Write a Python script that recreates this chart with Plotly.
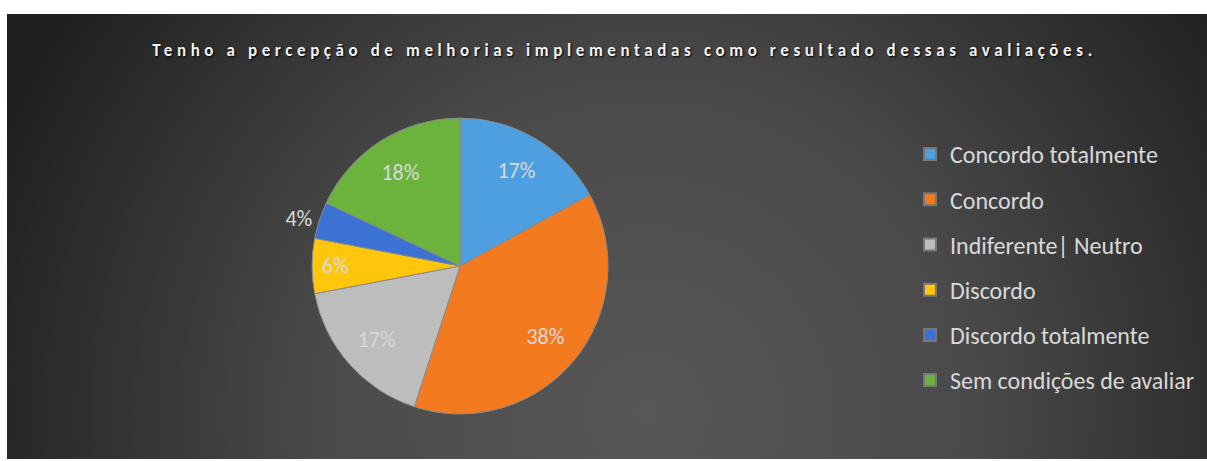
import base64
import plotly.graph_objects as go

# ---- data ----
categories = ["Concordo totalmente", "Concordo", "Indiferente| Neutro",
              "Discordo", "Discordo totalmente", "Sem condições de avaliar"]
values = [17, 38, 17, 6, 4, 18]
colors = ["#4E9FE0", "#F47A1F", "#BDBDBD", "#FFC60B", "#3B72D4", "#6CB33E"]
label_pos = ["inside", "inside", "inside", "inside", "outside", "inside"]
title_text = "Tenho a percepção de melhorias implementadas como resultado dessas avaliações."

W, H = 1207, 461
FONT = "Carlito, Lato, Calibri, sans-serif"
TXT = "#d9d9d9"
PIE_DOMAIN = dict(x=[0.2585, 0.5038], y=[0.102, 0.744])

# radial gradient background (as an SVG image)
svg = f'''<svg xmlns="http://www.w3.org/2000/svg" width="1200" height="445" viewBox="0 0 1200 445">
<defs><radialGradient id="g" gradientUnits="userSpaceOnUse" cx="640" cy="400" r="720">
<stop offset="0" stop-color="#575757"/><stop offset="0.45" stop-color="#4a4a4a"/>
<stop offset="1" stop-color="#1e1e1e"/></radialGradient></defs>
<rect width="1200" height="445" fill="url(#g)"/></svg>'''
src = "data:image/svg+xml;base64," + base64.b64encode(svg.encode()).decode()

fig = go.Figure()
# the visible pie
fig.add_trace(go.Pie(
    labels=categories, values=values, sort=False, direction="clockwise", rotation=0,
    marker=dict(colors=colors, line=dict(color="#8a8a8a", width=1)),
    textinfo="none", showlegend=False, hoverinfo="skip",
    domain=PIE_DOMAIN,
))
# transparent ring on top, carrying the labels further out
fig.add_trace(go.Pie(
    labels=categories, values=values, sort=False, direction="clockwise", rotation=0,
    hole=0.5,
    marker=dict(colors=["rgba(0,0,0,0)"] * len(values), line=dict(width=0)),
    textinfo="percent", textposition=label_pos,
    texttemplate="%{percent:.0%}",
    insidetextorientation="horizontal",
    textfont=dict(family=FONT, size=22, color=TXT),
    showlegend=False, hoverinfo="skip",
    domain=PIE_DOMAIN,
))
# legend entries
for i, (c, col) in enumerate(zip(categories, colors)):
    fig.add_trace(go.Scatter(
        x=[None], y=[None], mode="markers", name=c, legendgroup=f"g{i}",
        marker=dict(symbol="square", size=13, color=col, line=dict(color="#777", width=1)),
        hoverinfo="skip",
    ))

fig.update_layout(
    width=W, height=H,
    margin=dict(l=0, r=0, t=0, b=0),
    paper_bgcolor="white", plot_bgcolor="rgba(0,0,0,0)",
    xaxis=dict(visible=False), yaxis=dict(visible=False),
    images=[dict(source=src, xref="paper", yref="paper", x=7 / W, y=1 - 14 / H,
                 sizex=1 - 7 / W, sizey=(459 - 14) / H, sizing="stretch",
                 xanchor="left", yanchor="top", layer="below")],
    title=dict(text=title_text, x=0.5 + 21 / W, xanchor="center", y=1 - 50 / H, yanchor="middle",
               font=dict(family=FONT, size=17, color="#f2f2f2", weight="bold",
                         shadow="1px 1px 2px #000")),
    legend=dict(x=910 / W, y=1 - 132 / H, xanchor="left", yanchor="top",
                traceorder="grouped", tracegroupgap=11,
                font=dict(family=FONT, size=24, color=TXT),
                bgcolor="rgba(0,0,0,0)", itemsizing="constant"),
    uniformtext=dict(minsize=22, mode="show"),
    hovermode=False,
)

post = """
document.body.style.margin='0';
document.querySelectorAll('.gtitle').forEach(function(e){e.style.letterSpacing='4.6px';});
"""
fig.write_html("out.html", post_script=post, config={"displayModeBar": False})
